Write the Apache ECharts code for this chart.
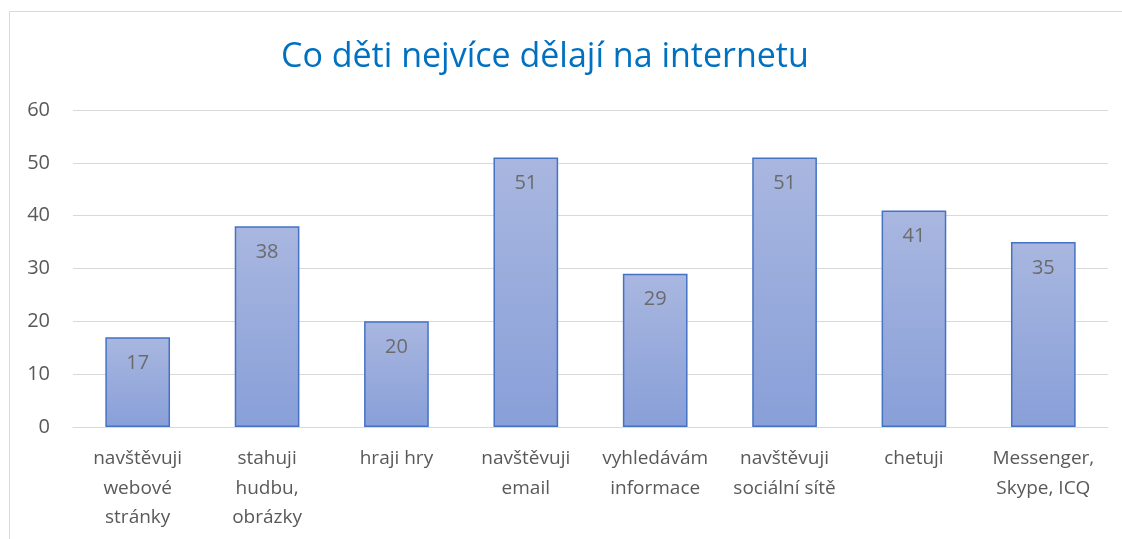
<!DOCTYPE html>
<html>
<head>
<meta charset="utf-8">
<script src="https://cdn.jsdelivr.net/npm/echarts@6/dist/echarts.min.js"></script>
<style>
html,body{margin:0;padding:0;background:#fff;}
#chart{width:1122px;height:539px;}
</style>
</head>
<body>
<div id="chart"></div>
<script>
const titleText = 'Co děti nejvíce dělají na internetu';
const categories = ['navštěvuji\nwebové\nstránky', 'stahuji\nhudbu,\nobrázky', 'hraji hry', 'navštěvuji\nemail', 'vyhledávám\ninformace', 'navštěvuji\nsociální sítě', 'chetuji', 'Messenger,\nSkype, ICQ'];
const values = [17, 38, 20, 51, 29, 51, 41, 35];
const yTicks = [0, 10, 20, 30, 40, 50, 60];

const chart = echarts.init(document.getElementById('chart'));
const font = '"Open Sans", "Noto Sans", sans-serif';
chart.setOption({
  animation: false,
  backgroundColor: '#fff',
  graphic: [{
    type: 'rect',
    shape: {x: 9.5, y: 11.5, width: 1200, height: 600},
    style: {fill: 'none', stroke: '#d9d9d9', lineWidth: 1},
    silent: true
  }],
  title: {
    text: titleText,
    left: 276,
    top: 35,
    textStyle: {color: '#0070c0', fontSize: 34, fontWeight: 'normal', fontFamily: font}
  },
  grid: {left: 73, right: 14, top: 110, bottom: 112},
  xAxis: {
    type: 'category',
    data: categories,
    axisLine: {show: true, lineStyle: {color: '#d9d9d9', width: 1}},
    axisTick: {show: false},
    axisLabel: {color: '#595959', fontSize: 19, fontFamily: font, margin: 17, lineHeight: 29.5, interval: 0}
  },
  yAxis: {
    type: 'value',
    min: yTicks[0],
    max: yTicks[yTicks.length - 1],
    interval: 10,
    axisLine: {show: false},
    axisTick: {show: false},
    splitLine: {lineStyle: {color: '#d9d9d9', width: 1}},
    axisLabel: {color: '#595959', fontSize: 20, fontFamily: font, margin: 23}
  },
  series: [{
    type: 'bar',
    data: values,
    barWidth: '50%',
    itemStyle: {
      color: new echarts.graphic.LinearGradient(0, 0, 0, 1, [
        {offset: 0, color: '#a9b7e0'},
        {offset: 1, color: '#889fd8'}
      ]),
      borderColor: '#4472c4',
      borderWidth: 1.5
    },
    label: {
      show: true,
      position: 'insideTop',
      distance: 16,
      color: '#6b6b6b',
      fontSize: 20,
      fontFamily: font
    }
  }]
});
</script>
</body>
</html>
